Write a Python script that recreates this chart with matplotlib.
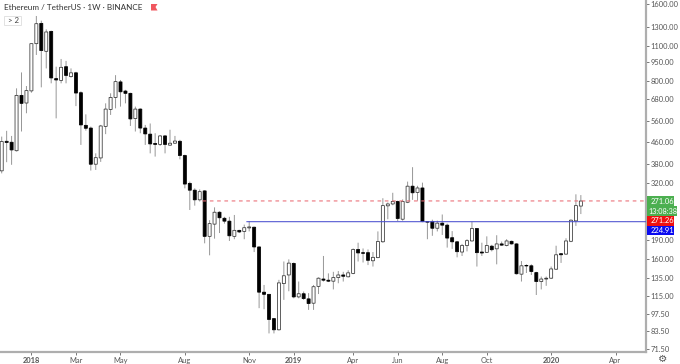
import pandas as pd
import matplotlib
matplotlib.use('Agg')
import matplotlib.pyplot as plt
import matplotlib.dates as mdates
from matplotlib.patches import Rectangle, Polygon, FancyBboxPatch

plt.rcParams['font.family'] = ['Lato', 'DejaVu Sans']

# weekly candles
opens = [356,465,461,427,704,657,733,1123,1349,1048,1255,819,806,912,834,863,721,537,524,378,
         400,532,620,691,795,732,717,571,622,524,496,456,452,488,449,457,465,409,318,299,
         274,297,197,220,245,232,226,197,208,206,212.6,214,179,119,116.7,93.7,84.7,128.6,139,154.3,
         114,117.3,112,107.7,125.4,134,132.6,131.4,135.8,139,136.7,141,175,170,170,158,162.6,187.6,259.5,264,
         270,230,268,310,293,305,225,225,212,222,218,194.6,187.5,171,181.4,189,211.5,171,170.5,180.3,
         176,184,181.4,188.4,184,140,151.5,151,142,131,134,135,146.4,168.4,167.8,188.4,226.6,259]
highs = [485,511,488,750,866,766,1126,1442,1382,1278,1263,912,978,961,898,871,730,593,531,417,
         539,655,717,845,809,740,721,636,626,539,546,500,492,492,516,488,471,412,323,304,
         301,299,228,256,247,235,235,239,209,219,226,215,180,127,117,94,133,157,160,155.6,
         131,119.7,118,127,136,165,141,143,144,143,145,176.6,186,176.6,175,171,206,278,267.4,292,
         272,275,323,368,311,320,226,229,227,240,221,206.6,189,184,192,224.6,212,186,197,182.5,
         199,188,192,189.6,185,157.6,153,153,143,137,137,150,181,169.5,193.6,229.6,288,286]
lows = [348,385,376,424,508,599,721,1014,757,898,785,572,785,785,826,639,450,512,357,359,
        386,496,590,626,636,655,534,508,500,450,417,405,446,417,446,454,395,304,250,260,
        270,185,166,193,203,221,189,192,203,192,206,171,103,102,82,82,84.2,111,120,112.6,
        112.6,111,101.4,101.4,117,131,130.4,122,129,131,136,140,157,155.6,152,150,161.6,186,230,261,
        226,227,266,274,272,224,192,198,206,199.5,178,176,163,165,172,188,150,165,169.5,172,
        153,181,180,183,139.6,131,141.5,139,116,122,126,134,145.5,155,166.8,187,216.5,241]
closes = [464,460,430,704,655,735,1123,1345,1055,1248,824,809,907,843,863,719,539,523,378,401,
          534,622,691,797,727,717,569,622,524,497,454,452,488,452,457,466,409,316,299,274,
          295,197,221,245,233,226,198,208,205,213,214.5,179,119,116.7,93,84.7,129.4,138,154.7,114,
          117.3,112.3,107.4,125,135,132.6,131.4,135.8,139,137.4,141.7,175,169.6,169,158.7,163,188,260,264,270,
          231.5,270,310,292,305,225,224,212,222,218,194,187.5,171.5,181.4,189.5,211.5,170,169.5,181.4,174.6,
          184,182,189,184,140.5,151,150.8,143.4,131,134,135,146.8,166.8,166.8,189,228,260,271.06]
dates = pd.date_range('2017-11-20', periods=len(opens), freq='7D')

resistance = 271.26
support = 224.91
price_ticks = [71.5, 83.5, 97.5, 115, 135, 160, 190, 320, 380, 460, 560, 680, 800, 950, 1100, 1300, 1600]
date_ticks = ['2018-01-01', '2018-03-05', '2018-05-07', '2018-08-06', '2018-11-05', '2019-01-07',
              '2019-04-01', '2019-06-03', '2019-08-05', '2019-10-07', '2020-01-06', '2020-04-06']
date_labels = ['2018', 'Mar', 'May', 'Aug', 'Nov', '2019', 'Apr', 'Jun', 'Aug', 'Oct', '2020', 'Apr']

W, H = 680, 364
fig = plt.figure(figsize=(W / 100, H / 100), dpi=100)
ax = fig.add_axes([0, 1 - 351.7 / H, 645.7 / W, 351.7 / H])

x = mdates.date2num(dates)
for xi, o, h, l, c in zip(x, opens, highs, lows, closes):
    ax.vlines(xi, l, h, color='#969696', lw=0.7, zorder=1, snap=False)
    bars = ax.bar(xi, abs(c - o), bottom=min(o, c), width=4.3, color='white' if c >= o else 'black',
                  edgecolor='#333333' if c >= o else 'black', lw=0.55, zorder=2)
    bars[0].set_snap(False)

ax.hlines(resistance, x[40] + 4, x[0] + 140 * 7, color='#ea6a73', lw=0.75, ls=(0, (3.5, 3.5)), zorder=3, snap=False)
ax.hlines(support, x[49] + 3, x[0] + 140 * 7, color='#4a4fcf', lw=0.75, zorder=3, snap=False)

ax.set_yscale('log')
ax.set_ylim(69.5, 1666)
ax.set_yticks(price_ticks)
ax.set_yticklabels(['%.2f' % p for p in price_ticks])
ax.minorticks_off()
ax.yaxis.tick_right()

ax.set_xlim(x[0] - 2.4, x[0] + 130.1 * 7)
ax.set_xticks(mdates.date2num(pd.to_datetime(date_ticks)))
ax.set_xticklabels(date_labels)
for lab in ax.get_xticklabels():
    if lab.get_text().startswith('20'):
        lab.set_fontweight('bold')

ax.tick_params(axis='y', length=2.5, width=0.7, color='#777777', labelsize=5.4, labelcolor='#555555', pad=1)
ax.tick_params(axis='x', length=2, width=0.7, color='#777777', labelsize=5.4, labelcolor='#555555', pad=1.5)
for s in ['top', 'left']:
    ax.spines[s].set_visible(False)
for s in ['right', 'bottom']:
    ax.spines[s].set_color('#aeaeae')
    ax.spines[s].set_linewidth(1.6)


def px_rect(x0, y0, x1, y1, color):
    fig.add_artist(Rectangle((x0 / W, 1 - y1 / H), (x1 - x0) / W, (y1 - y0) / H,
                             transform=fig.transFigure, facecolor=color, edgecolor='none'))


def px_text(px, py, s, **kw):
    fig.text(px / W, 1 - py / H, s, va='center', **kw)


# price labels on the axis
px_rect(646.7, 196, 674, 206, '#4caf50')
px_rect(646.7, 206, 677, 215.7, '#4caf50')
px_rect(646.7, 216, 674, 225.5, '#f01010')
px_rect(646.7, 225.5, 674, 235, '#0b0bf0')
px_text(650.5, 201, '271.06', color='white', fontsize=5.4)
px_text(648.5, 211, '13:08:38', color='white', fontsize=5.2)
px_text(650.5, 221, '271.26', color='white', fontsize=5.4)
px_text(650.5, 230.5, '224.91', color='white', fontsize=5.4)

# header
px_text(4, 7.5, 'Ethereum / TetherUS \u00b7 1W \u00b7 BINANCE', color='#333333', fontsize=5.9)
fig.add_artist(Polygon([(151 / W, 1 - 4 / H), (157.5 / W, 1 - 4 / H), (155.5 / W, 1 - 7 / H),
                        (157.5 / W, 1 - 10.5 / H), (151 / W, 1 - 10.5 / H)],
                       transform=fig.transFigure, facecolor='#f0575f', edgecolor='none'))
fig.add_artist(FancyBboxPatch((4 / W, 1 - 25 / H), 17 / W, 9 / H, boxstyle='square,pad=0',
                              transform=fig.transFigure, facecolor='white', edgecolor='#e2e2e2', lw=0.7))
px_text(7.5, 20.5, '> 2', color='#444444', fontsize=5.6)
fig.text(663 / W, 1 - 358.5 / H, '\u2699', ha='center', va='center', color='#555555', fontsize=7.5, family='DejaVu Sans')

fig.savefig('out.png', dpi=100)
